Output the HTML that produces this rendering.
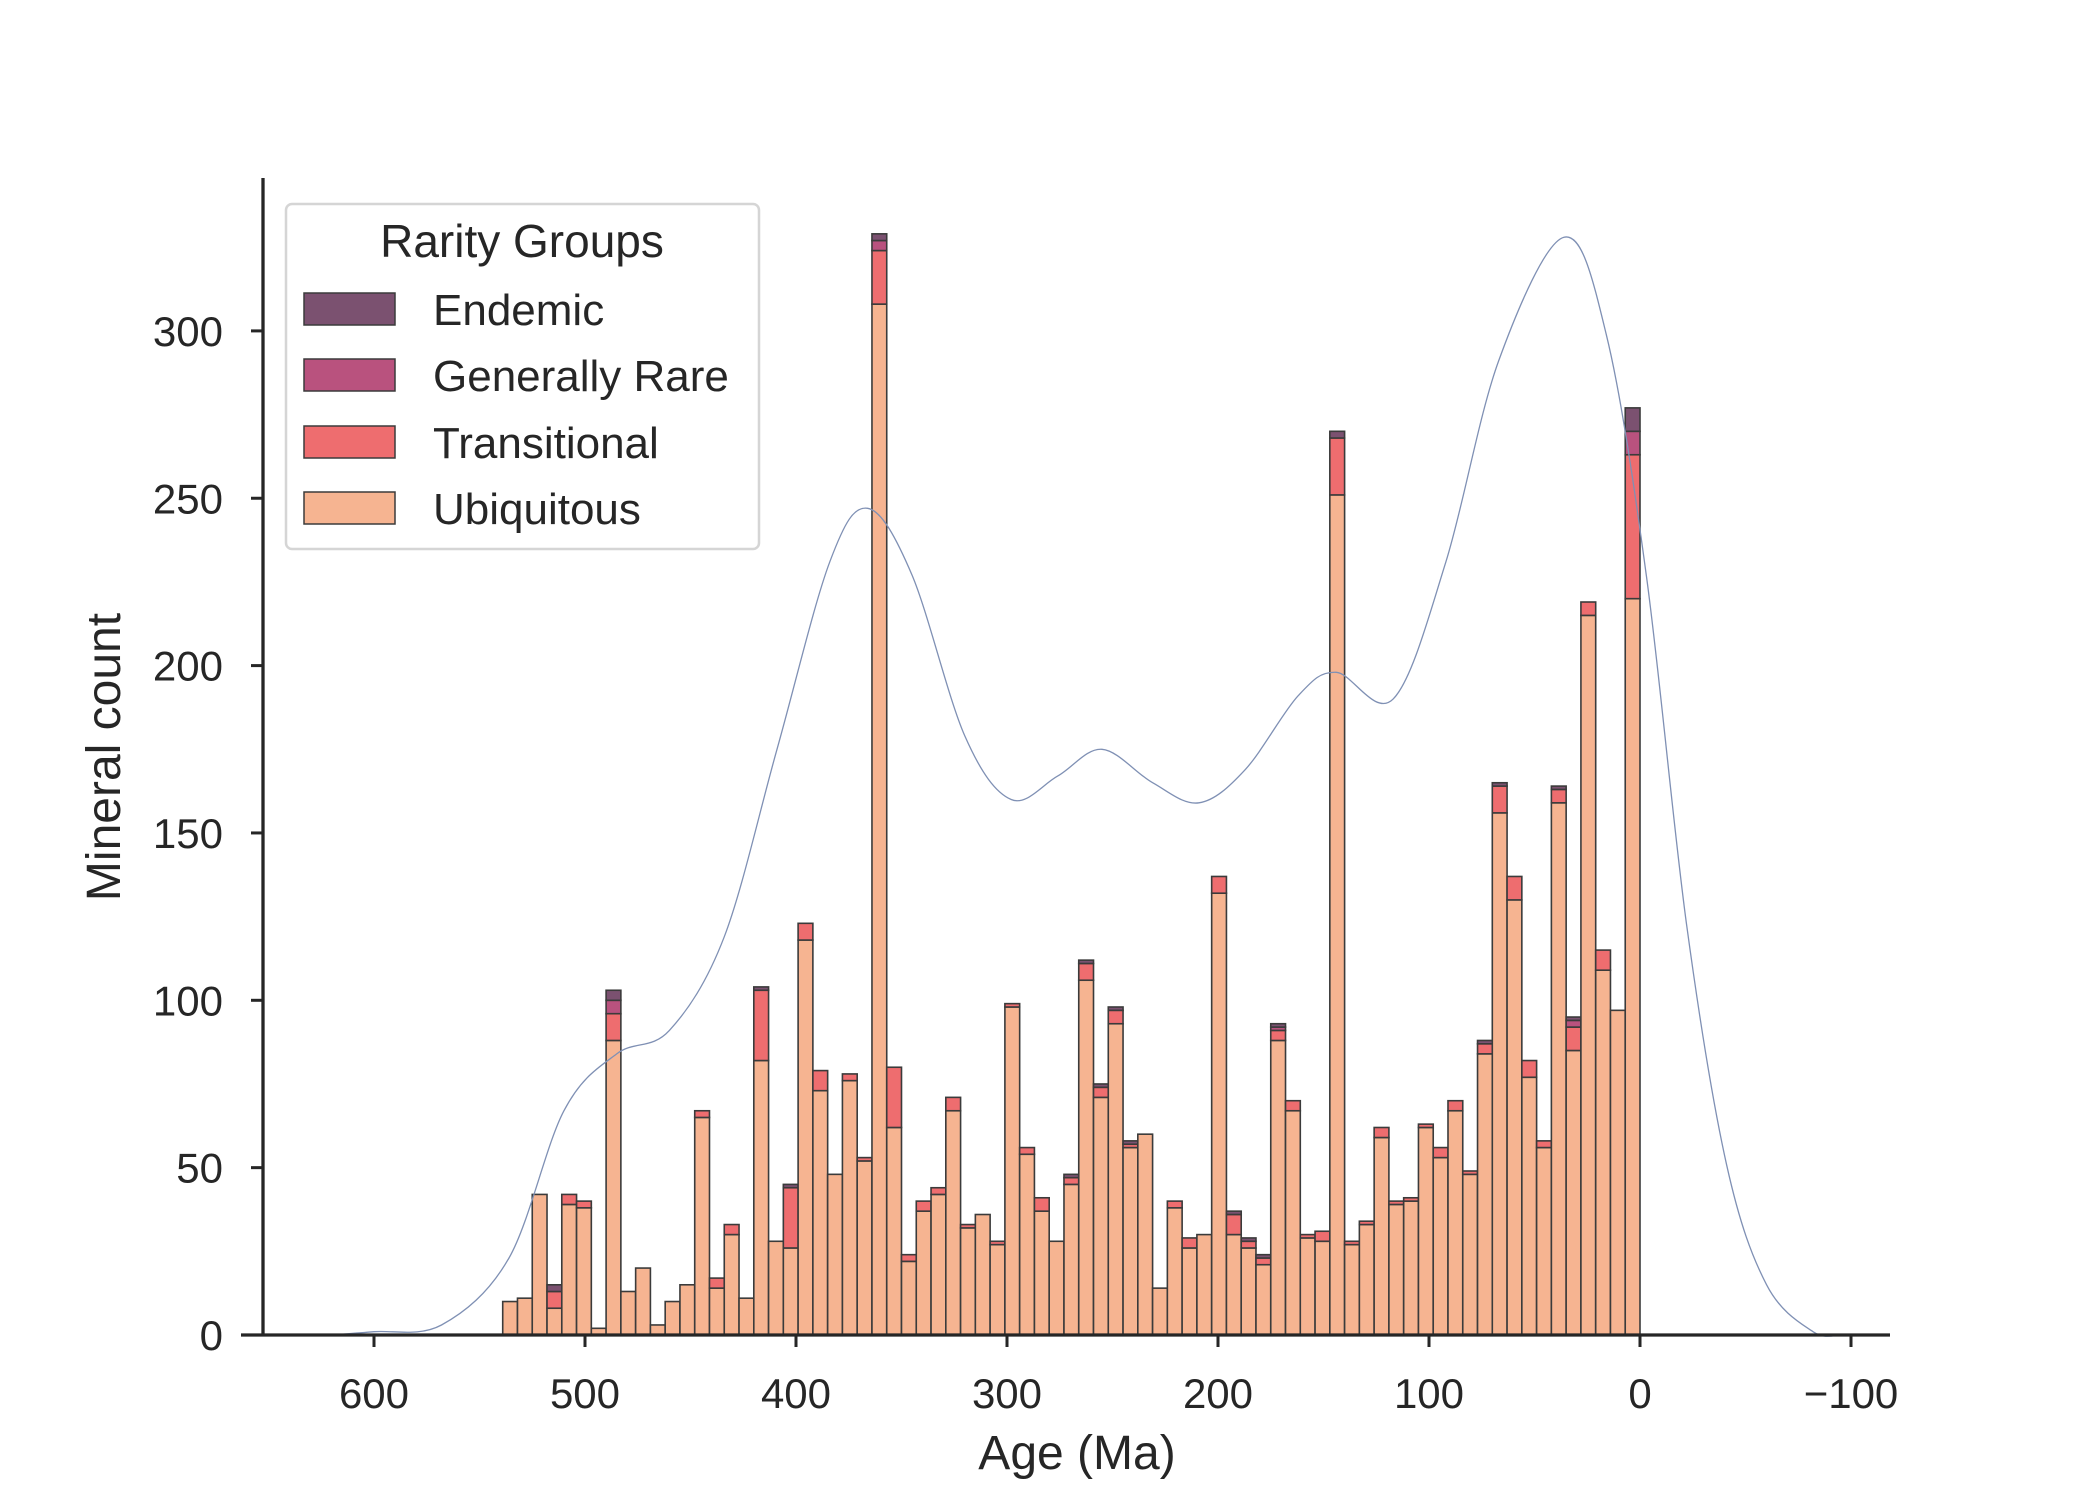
<!DOCTYPE html>
<html><head><meta charset="utf-8">
<style>
html,body{margin:0;padding:0;background:#fff;}
svg{display:block;font-family:"Liberation Sans",sans-serif;}
</style></head>
<body>
<svg id="chart" width="2100" height="1500" viewBox="0 0 2100 1500" xmlns="http://www.w3.org/2000/svg">
<rect width="2100" height="1500" fill="#fff"/>
<g id="bars"></g>
<g id="kde"></g>
<g id="axes"></g>
<g id="legend">
  <rect x="286" y="204" width="473" height="345" rx="6" fill="#fff" fill-opacity="0.85" stroke="#d5d5d5" stroke-width="2.5"/>
  <text x="522" y="257" font-size="46" text-anchor="middle" fill="#262626">Rarity Groups</text>
  <g><rect x="304" y="293" width="91" height="32" fill="#7b5170" stroke="#3b3b3b" stroke-width="1.5"/><text x="433" y="325" font-size="44" fill="#262626">Endemic</text></g>
  <g><rect x="304" y="359" width="91" height="32" fill="#b9527e" stroke="#3b3b3b" stroke-width="1.5"/><text x="433" y="391" font-size="44" fill="#262626">Generally Rare</text></g>
  <g><rect x="304" y="426" width="91" height="32" fill="#ee6d6f" stroke="#3b3b3b" stroke-width="1.5"/><text x="433" y="458" font-size="44" fill="#262626">Transitional</text></g>
  <g><rect x="304" y="492" width="91" height="32" fill="#f6b491" stroke="#3b3b3b" stroke-width="1.5"/><text x="433" y="524" font-size="44" fill="#262626">Ubiquitous</text></g>
</g>
</svg>
<script>
const binStart = 539;
const binWidth = 7;
const ubiquitous = [10,11,42,8,39,38,2,88,13,20, 3,10,15,65,14,30,11,82,28,26, 118,73,48,76,52,308,62,22,37,42, 67,32,36,27,98,54,37,28,45,106, 71,93,56,60,14,38,26,30,132,30, 26,21,88,67,29,28,251,27,33,59, 39,40,62,53,67,48,84,156,130,77, 56,159,85,215,109,97,220];
const transitional = [0,0,0,5,3,2,0,8,0,0, 0,0,0,2,3,3,0,21,0,18, 5,6,0,2,1,16,18,2,3,2, 4,1,0,1,1,2,4,0,2,5, 3,4,1,0,0,2,3,0,5,6, 2,2,3,3,1,3,17,1,1,3, 1,1,1,3,3,1,3,8,7,5, 2,4,7,4,6,0,43];
const generallyRare = [0,0,0,0,0,0,0,4,0,0, 0,0,0,0,0,0,0,0,0,0, 0,0,0,0,0,3,0,0,0,0, 0,0,0,0,0,0,0,0,0,0, 0,0,0,0,0,0,0,0,0,0, 0,0,1,0,0,0,0,0,0,0, 0,0,0,0,0,0,0,0,0,0, 0,0,2,0,0,0,7];
const endemic = [0,0,0,2,0,0,0,3,0,0, 0,0,0,0,0,0,0,1,0,1, 0,0,0,0,0,2,0,0,0,0, 0,0,0,0,0,0,0,0,1,1, 1,1,1,0,0,0,0,0,0,1, 1,1,1,0,0,0,2,0,0,0, 0,0,0,0,0,0,1,1,0,0, 0,1,1,0,0,0,7];
const kdeAge = [620,600,568,536,510,485,460,434,409,384,366,345,320,298,276,255,231,209,187,162,144,117,92,67,36,16,-3,-22,-41,-60,-82,-95];
const kdeValue = [0,1,3,23,67,84,91,119,175,231,247,227,179,160,167,175,165,159,169,191,198,190,231,291,328,299,227,123,51,15,1,0];
const xTicks = [600,500,400,300,200,100,0,-100];
const xTickLabels = ["600","500","400","300","200","100","0","\u2212100"];
const yTicks = [0,50,100,150,200,250,300];

const NS = "http://www.w3.org/2000/svg";
const X0 = 1640, XS = 2.11, Y0 = 1335, YS = 3.347;
function xScale(a){ return X0 - a*XS; }
function yScale(v){ return Y0 - v*YS; }
function mk(tag, attrs, parent){ const e=document.createElementNS(NS,tag); for(const k in attrs) e.setAttribute(k,attrs[k]); parent.appendChild(e); return e; }

const bars = document.getElementById('bars');
const series = [
  {vals: ubiquitous, color:'#f6b491', name:'ubiquitous'},
  {vals: transitional, color:'#ee6d6f', name:'transitional'},
  {vals: generallyRare, color:'#b9527e', name:'generally-rare'},
  {vals: endemic, color:'#7b5170', name:'endemic'}
];
for (let i=0;i<ubiquitous.length;i++){
  const left = binStart - i*binWidth, right = left - binWidth;
  const x1 = xScale(left), x2 = xScale(right);
  let base = 0;
  series.forEach(s=>{
    const v = s.vals[i];
    if (v<=0) return;
    const r = mk('rect',{x:x1,y:yScale(base+v),width:x2-x1,height:v*YS,fill:s.color,stroke:'#3b3b3b','stroke-width':1.6},bars);
    
    
    base += v;
  });
}

const kde = document.getElementById('kde');
const pts = kdeAge.map((a,i)=>[xScale(a), yScale(kdeValue[i])]);
let d = 'M' + pts[0][0].toFixed(1) + ',' + pts[0][1].toFixed(1);
for (let i=0;i<pts.length-1;i++){
  const p0 = pts[Math.max(0,i-1)], p1 = pts[i], p2 = pts[i+1], p3 = pts[Math.min(pts.length-1,i+2)];
  const c1x = p1[0] + (p2[0]-p0[0])/6, c1y = p1[1] + (p2[1]-p0[1])/6;
  const c2x = p2[0] - (p3[0]-p1[0])/6, c2y = p2[1] - (p3[1]-p1[1])/6;
  d += ' C' + c1x.toFixed(1)+','+c1y.toFixed(1)+' '+c2x.toFixed(1)+','+c2y.toFixed(1)+' '+p2[0].toFixed(1)+','+p2[1].toFixed(1);
}
const kp = mk('path',{d:d,fill:'none',stroke:'#7f90b4','stroke-width':1.3,'stroke-linejoin':'round'},kde);



const axes = document.getElementById('axes');
const ls = mk('line',{x1:263,y1:178,x2:263,y2:1335,stroke:'#262626','stroke-width':3.3},axes);


const bs = mk('line',{x1:241,y1:1335,x2:1890,y2:1335,stroke:'#262626','stroke-width':3.3},axes);


xTicks.forEach((t,i)=>{
  const x = xScale(t);
  const tl = mk('line',{x1:x,y1:1335,x2:x,y2:1347,stroke:'#262626','stroke-width':3},axes);
  
  
  const tx = mk('text',{x:x,y:1408,'font-size':42,'text-anchor':'middle',fill:'#262626'},axes);
  tx.textContent = xTickLabels[i];
  
  
});
yTicks.forEach(t=>{
  const y = yScale(t);
  const tl = mk('line',{x1:251,y1:y,x2:263,y2:y,stroke:'#262626','stroke-width':3},axes);
  
  
  const tx = mk('text',{x:223,y:y+15,'font-size':42,'text-anchor':'end',fill:'#262626'},axes);
  tx.textContent = String(t);
  
  
});
const xl = mk('text',{x:1077,y:1469,'font-size':48,'text-anchor':'middle',fill:'#262626'},axes);
xl.textContent = 'Age (Ma)';


const yl = mk('text',{x:0,y:0,'font-size':48,'text-anchor':'middle',fill:'#262626',transform:'translate(120,757) rotate(-90)'},axes);
yl.textContent = 'Mineral count';


</script>
</body></html>
